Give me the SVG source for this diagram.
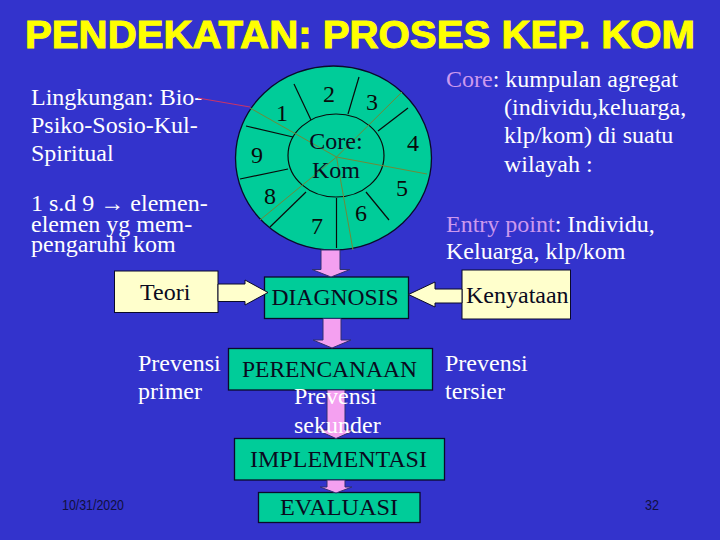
<svg xmlns="http://www.w3.org/2000/svg" width="720" height="540" viewBox="0 0 720 540">
<defs>
<style>
.t{font-size:24px}
.w{fill:#ffffff}
.d{fill:#0a0a1e}
.lav{fill:#cc99ee}
.box{fill:#00cc99;stroke:#0a0a2a;stroke-width:1.3}
.cream{fill:#ffffcc;stroke:#0a0a2a;stroke-width:1}
.pink{fill:#f4a0f0;stroke:#303070;stroke-width:1}
.rad{stroke:#0a0a0a;stroke-width:1.2;fill:none}
.ol{stroke:#6f8a3a;stroke-width:1;fill:none}
.num{font-size:24px;fill:#0a0a0a;text-anchor:middle}
.sm{font-size:15px;fill:#101040}
</style>
</defs>
<rect width="720" height="540" fill="#3333cc"/>
<text x="25" y="48" font-family="Liberation Sans, Arial, sans-serif" font-weight="bold" font-size="38" fill="#ffff00" stroke="#ffff00" stroke-width="1" textLength="670" lengthAdjust="spacingAndGlyphs">PENDEKATAN: PROSES KEP. KOM</text>

<g font-family="Liberation Serif, Times New Roman, DejaVu Serif, serif">
<g id="left-text">
<text class="t w" x="31" y="105">Lingkungan: Bio-</text>
<text class="t w" x="31" y="133">Psiko-Sosio-Kul-</text>
<text class="t w" x="31" y="161">Spiritual</text>
<text class="t w" x="31" y="211">1 s.d 9 → elemen-</text>
<text class="t w" x="31" y="231.5">elemen yg mem-</text>
<text class="t w" x="31" y="252">pengaruhi kom</text>
</g>

<g id="right-text">
<text class="t w" x="446" y="87"><tspan class="lav">Core</tspan>: kumpulan agregat</text>
<text class="t w" x="504" y="115">(individu,keluarga,</text>
<text class="t w" x="504" y="143">klp/kom) di suatu</text>
<text class="t w" x="504" y="172">wilayah :</text>
<text class="t w" x="446" y="232"><tspan class="lav">Entry point</tspan>: Individu,</text>
<text class="t w" x="446" y="259">Keluarga, klp/kom</text>
</g>

<g id="wheel">
<ellipse cx="333.5" cy="158" rx="98" ry="92" class="box"/>
<ellipse cx="336" cy="155.5" rx="48" ry="41.5" fill="none" stroke="#0a0a0a" stroke-width="1.2"/>
<line class="rad" x1="294" y1="84" x2="311" y2="120"/>
<line class="rad" x1="359" y1="77" x2="348" y2="114"/>
<line class="rad" x1="408" y1="108" x2="378" y2="131"/>
<line class="rad" x1="366" y1="192" x2="389" y2="220"/>
<line class="rad" x1="336.5" y1="198" x2="336.5" y2="248"/>
<line class="rad" x1="306" y1="192" x2="270" y2="227"/>
<line class="rad" x1="288" y1="169" x2="240" y2="179"/>
<line class="rad" x1="246" y1="126" x2="293" y2="137"/>
<line class="ol" x1="336.5" y1="157" x2="250" y2="108"/>
<line class="ol" x1="336.5" y1="157" x2="402" y2="92"/>
<line class="ol" x1="336.5" y1="157" x2="427" y2="174"/>
<line class="ol" x1="336.5" y1="157" x2="353" y2="250"/>
<line class="ol" x1="336.5" y1="157" x2="260" y2="220"/>
<line x1="198" y1="98" x2="250" y2="107" stroke="#cc3366" stroke-width="1"/>
<text class="num" x="282" y="121">1</text>
<text class="num" x="329" y="102">2</text>
<text class="num" x="372" y="110">3</text>
<text class="num" x="413" y="151">4</text>
<text class="num" x="402" y="196">5</text>
<text class="num" x="361" y="221">6</text>
<text class="num" x="317" y="234">7</text>
<text class="num" x="270" y="204">8</text>
<text class="num" x="257" y="163">9</text>
<text class="t d" x="336" y="149" text-anchor="middle" font-size="22">Core:</text>
<text class="t d" x="336" y="178" text-anchor="middle" font-size="22">Kom</text>
</g>

<g id="teori">
<rect class="cream" x="114.5" y="271" width="103.5" height="41.5"/>
<text class="t d" x="140" y="300">Teori</text>
</g>
<g id="kenyataan">
<rect class="cream" x="462" y="270" width="108.5" height="49"/>
<text class="t d" x="466" y="303">Kenyataan</text>
</g>
<g id="diagnosis">
<rect class="box" x="264.5" y="277" width="144" height="41.5"/>
<text class="t d" x="271.5" y="305" textLength="127" lengthAdjust="spacingAndGlyphs">DIAGNOSIS</text>
</g>
<g id="perencanaan">
<rect class="box" x="228.5" y="348.5" width="204" height="41.5"/>
<text class="t d" x="242" y="377" textLength="175" lengthAdjust="spacingAndGlyphs">PERENCANAAN</text>
</g>
<g id="implementasi">
<rect class="box" x="234.5" y="438.5" width="210" height="41.5"/>
<text class="t d" x="250" y="467" textLength="177" lengthAdjust="spacingAndGlyphs">IMPLEMENTASI</text>
</g>
<g id="evaluasi">
<rect class="box" x="258.5" y="492.5" width="161.5" height="30"/>
<text class="t d" x="280" y="515" textLength="118" lengthAdjust="spacingAndGlyphs">EVALUASI</text>
</g>

<g id="connectors">
<path class="pink" d="M321 250 H340 V269.5 H350 L331 277 L312 269.5 H321 Z"/>
<path class="pink" d="M323 318.5 H341 V340 H351 L332 348 L313 340 H323 Z"/>
<path class="pink" d="M327 390 H345 V430 H355 L336 438.5 L317 430 H327 Z"/>
<path class="pink" d="M327 480 H345 V487 H352 L336 493 L320 487 H327 Z"/>
<path class="cream" d="M218 284 H245 V280 L268 292.5 L245 305 V301.5 H218 Z"/>
<path class="cream" d="M462 289 H435 V282 L408.5 294.5 L435 307 V303 H462 Z"/>
</g>

<g id="prevensi">
<text class="t w" x="138" y="371">Prevensi</text>
<text class="t w" x="138" y="399">primer</text>
<text class="t w" x="445" y="371">Prevensi</text>
<text class="t w" x="445" y="399">tersier</text>
<text class="t w" x="294" y="404">Prevensi</text>
<text class="t w" x="294" y="433">sekunder</text>
</g>
</g>

<g font-family="Liberation Sans, Arial, sans-serif">
<text class="sm" x="62" y="510" textLength="62" lengthAdjust="spacingAndGlyphs">10/31/2020</text>
<text class="sm" x="645" y="510" textLength="14" lengthAdjust="spacingAndGlyphs">32</text>
</g>
</svg>
